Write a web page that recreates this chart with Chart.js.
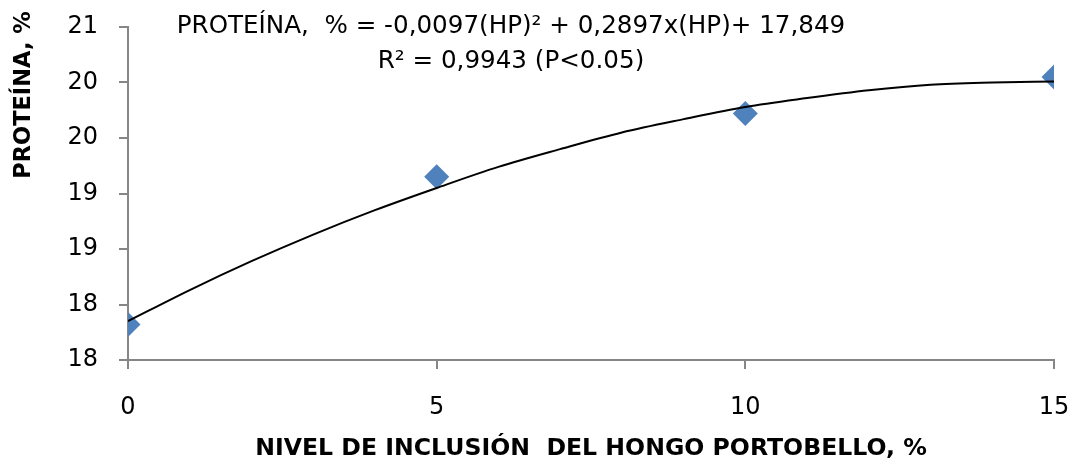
<!DOCTYPE html>
<html>
<head>
<meta charset="utf-8">
<script src="https://cdn.jsdelivr.net/npm/chart.js@4/dist/chart.umd.min.js"></script>
<style>
  html, body { margin: 0; padding: 0; background: #fff; }
  #wrap { width: 1085px; height: 468px; position: relative; }
</style>
</head>
<body>
<div id="wrap"><canvas id="c"></canvas></div>
<script>
// ---- data ----
const levels = [0, 5, 10, 15];                       // % inclusion of hongo portobello
const proteina = [17.82, 19.15, 19.72, 20.05];       // measured points
const trendLevels = [0, 1, 2, 3, 4, 5, 6, 7, 8, 9, 10, 11, 12, 13, 14, 15];
const trendProteina = [17.85, 18.13, 18.39, 18.63, 18.85, 19.05, 19.24, 19.40, 19.55, 19.67, 19.78, 19.86, 19.93, 19.98, 20.00, 20.01];
const yTickValues = [17.5, 18, 18.5, 19, 19.5, 20, 20.5];
const yTickLabels = ['18', '18', '19', '19', '20', '20', '21'];
const xTickLabels = ['0', '5', '10', '15'];
const equationLine1 = 'PROTEÍNA,  % = -0,0097(HP)² + 0,2897x(HP)+ 17,849';
const equationLine2 = 'R² = 0,9943 (P<0.05)';
const yTitle = 'PROTEÍNA, %';
const xTitle = 'NIVEL DE INCLUSIÓN  DEL HONGO PORTOBELLO, %';

const FONT = '"DejaVu Sans", sans-serif';
const AXIS = '#868686';

const textPlugin = {
  id: 'texts',
  afterDraw(chart) {
    const ctx = chart.ctx;
    ctx.save();
    ctx.fillStyle = '#000';
    ctx.textAlign = 'center';
    ctx.textBaseline = 'middle';
    ctx.font = '24.6px ' + FONT;
    ctx.fillText(equationLine1, 511, 27);
    ctx.fillText(equationLine2, 511, 62);
    // y-axis title
    ctx.translate(24, 95);
    ctx.rotate(-Math.PI / 2);
    ctx.font = 'bold 22.5px ' + FONT;
    ctx.fillText(yTitle, 0, 0);
    ctx.restore();
  }
};

new Chart(document.getElementById('c'), {
  type: 'scatter',
  data: {
    datasets: [
      {
        label: 'Tendencia',
        data: trendLevels.map((x, i) => ({ x: x, y: trendProteina[i] })),
        showLine: true,
        borderColor: '#000',
        borderWidth: 2,
        pointRadius: 0,
        cubicInterpolationMode: 'monotone',
        order: 0
      },
      {
        label: 'Proteína',
        data: levels.map((x, i) => ({ x: x, y: proteina[i] })),
        showLine: false,
        pointStyle: 'rectRot',
        pointRadius: 12.5,
        backgroundColor: '#4F81BD',
        borderColor: '#4F81BD',
        borderWidth: 0,
        order: 1
      }
    ]
  },
  options: {
    responsive: true,
    maintainAspectRatio: false,
    animation: false,
    layout: { padding: { top: 27, right: 31, bottom: 0, left: 0 } },
    plugins: { legend: { display: false }, tooltip: { enabled: false } },
    scales: {
      x: {
        type: 'linear',
        min: 0, max: 15,
        afterBuildTicks(scale) { scale.ticks = levels.map(v => ({ value: v })); },
        afterFit(scale) { scale.height = 108; scale.paddingLeft = 0; scale.paddingRight = 0; },
        ticks: {
          color: '#000',
          font: { family: FONT, size: 24 },
          padding: 24,
          callback: (v, i) => xTickLabels[i]
        },
        grid: { drawOnChartArea: false, drawTicks: true, tickLength: 9, color: AXIS, lineWidth: 2 },
        border: { color: AXIS, width: 2 },
        title: {
          display: true,
          text: xTitle,
          color: '#000',
          font: { family: FONT, size: 23.6, weight: 'bold' },
          padding: { top: 0, bottom: 5 }
        }
      },
      y: {
        type: 'linear',
        min: 17.5, max: 20.5,
        afterBuildTicks(scale) { scale.ticks = yTickValues.map(v => ({ value: v })); },
        afterFit(scale) { scale.width = 128; scale.paddingTop = 0; scale.paddingBottom = 0; },
        ticks: {
          color: '#000',
          font: { family: FONT, size: 24 },
          padding: 21,
          callback: (v, i) => yTickLabels[i]
        },
        grid: { drawOnChartArea: false, drawTicks: true, tickLength: 9, color: AXIS, lineWidth: 2 },
        border: { color: AXIS, width: 2 }
      }
    }
  },
  plugins: [textPlugin]
});
</script>
</body>
</html>
